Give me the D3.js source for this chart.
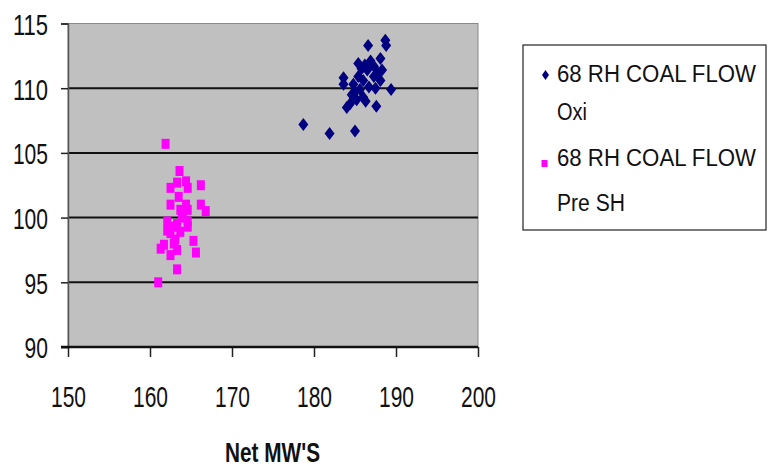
<!DOCTYPE html>
<html>
<head>
<meta charset="utf-8">
<script src="https://cdn.jsdelivr.net/npm/d3@7.9.0/dist/d3.min.js"></script>
<style>
  body { margin: 0; background: #fff; }
  svg { display: block; font-family: "Liberation Sans", Arial, sans-serif; }
</style>
</head>
<body>
<svg id="chart" width="769" height="470"></svg>
<script>
// Series: 68 RH COAL FLOW Oxi (navy diamonds)
const oxiX = [178.7, 181.9, 185.0, 186.6, 188.7, 188.8, 183.6, 183.6, 189.4, 187.6, 184.0, 184.4,
  185.4, 188.1, 188.3, 188.1, 187.5, 186.3, 185.2, 185.6, 184.6, 186.0, 186.5, 186.9, 187.3,
  185.8, 185.4, 184.8, 187.3, 186.7, 187.8, 186.2, 185.0, 186.0];
const oxiY = [107.2, 106.5, 106.7, 113.3, 113.7, 113.3, 110.8, 110.3, 109.9, 108.6, 108.5, 108.8,
  111.9, 112.3, 111.4, 110.6, 110.0, 109.0, 109.1, 109.9, 109.5, 110.6, 111.4, 112.1, 111.7,
  111.5, 110.9, 110.3, 110.9, 110.1, 111.2, 111.8, 109.7, 109.3];

// Series: 68 RH COAL FLOW Pre SH (magenta squares)
const preX = [161.9, 163.6, 162.5, 163.3, 164.4, 164.6, 166.2, 163.5, 162.5, 163.7, 164.4, 164.6,
  166.2, 166.8, 162.1, 162.1, 162.9, 163.7, 164.6, 164.6, 163.9, 161.3, 161.7, 162.5, 162.9,
  163.3, 163.1, 165.3, 165.6, 163.3, 161.0, 162.5, 163.3, 164.0];
const preY = [105.7, 103.6, 102.3, 102.7, 102.8, 102.3, 102.5, 101.6, 101.0, 100.6, 101.0, 100.6,
  101.0, 100.5, 99.7, 99.0, 99.3, 98.9, 99.7, 99.3, 100.0, 97.6, 97.9, 97.1, 98.0,
  97.5, 98.3, 98.2, 97.3, 96.0, 95.0, 98.8, 99.5, 100.3];

const xTicks = [150, 160, 170, 180, 190, 200];
const yTicks = [90, 95, 100, 105, 110, 115];
const seriesNames = [["68 RH COAL FLOW", "Oxi"], ["68 RH COAL FLOW", "Pre SH"]];
const xTitle = "Net MW'S";

const svg = d3.select("#chart");
const plot = { left: 68, right: 478, top: 23.5, bottom: 347 };

const x = d3.scaleLinear().domain([150, 200]).range([plot.left, plot.right]);
const y = d3.scaleLinear().domain([90, 115]).range([plot.bottom, plot.top]);

// plot area background
svg.append("rect")
  .attr("x", plot.left).attr("y", plot.top)
  .attr("width", plot.right - plot.left).attr("height", plot.bottom - plot.top)
  .attr("fill", "#c0c0c0")
  .attr("stroke", "#8a8a8a").attr("stroke-width", 1);

// horizontal gridlines
svg.selectAll(".grid")
  .data(yTicks.filter(d => d > 90 && d < 115))
  .join("line")
  .attr("x1", plot.left).attr("x2", plot.right)
  .attr("y1", d => y(d)).attr("y2", d => y(d))
  .attr("stroke", "#111").attr("stroke-width", 2);

// y axis
const yAxis = svg.append("g")
  .attr("transform", `translate(${plot.left},0)`)
  .call(d3.axisLeft(y).tickValues(yTicks).tickSize(7).tickFormat(d3.format("d")));
yAxis.select(".domain").attr("stroke", "#555").attr("stroke-width", 1.5);
yAxis.selectAll(".tick line").attr("stroke", "#222").attr("stroke-width", 1.5);
yAxis.selectAll(".tick text")
  .attr("x", -20).attr("dy", "0.36em")
  .attr("font-size", 30).attr("fill", "#111")
  .attr("text-anchor", "end")
  .attr("textLength", d => String(d).length * 11.7)
  .attr("lengthAdjust", "spacingAndGlyphs");

// x axis
const xAxis = svg.append("g")
  .attr("transform", `translate(0,${plot.bottom})`)
  .call(d3.axisBottom(x).tickValues(xTicks).tickSize(10).tickFormat(d3.format("d")));
xAxis.select(".domain").remove();
xAxis.selectAll(".tick line").attr("stroke", "#222").attr("stroke-width", 1.5);
xAxis.selectAll(".tick text")
  .attr("y", 60).attr("dy", 0)
  .attr("font-size", 30).attr("fill", "#111")
  .attr("textLength", 35)
  .attr("lengthAdjust", "spacingAndGlyphs");

// x axis line (the 90 line)
svg.append("line")
  .attr("x1", plot.left - 7).attr("x2", plot.right)
  .attr("y1", plot.bottom).attr("y2", plot.bottom)
  .attr("stroke", "#111").attr("stroke-width", 2.5);

// axis title
svg.append("text")
  .attr("x", 272.5).attr("y", 462)
  .attr("text-anchor", "middle")
  .attr("font-size", 28).attr("font-weight", "bold").attr("fill", "#111")
  .attr("textLength", 95).attr("lengthAdjust", "spacingAndGlyphs")
  .text(xTitle);

// markers
const diamond = (cx, cy, w, h) => `M${cx},${cy - h / 2}L${cx + w / 2},${cy}L${cx},${cy + h / 2}L${cx - w / 2},${cy}Z`;

svg.append("g").selectAll("path")
  .data(d3.zip(oxiX, oxiY))
  .join("path")
  .attr("d", d => diamond(x(d[0]), y(d[1]), 10, 13))
  .attr("fill", "#000080");

svg.append("g").selectAll("rect")
  .data(d3.zip(preX, preY))
  .join("rect")
  .attr("x", d => x(d[0]) - 4).attr("y", d => y(d[1]) - 5)
  .attr("width", 8).attr("height", 10)
  .attr("fill", "#ff00ff");

// legend
const legend = svg.append("g");
legend.append("rect")
  .attr("x", 523).attr("y", 45).attr("width", 243).attr("height", 185)
  .attr("fill", "#fff").attr("stroke", "#222").attr("stroke-width", 1.2);

legend.append("path").attr("d", diamond(545.5, 75, 7, 10)).attr("fill", "#000080");
legend.append("rect").attr("x", 541.5).attr("y", 160).attr("width", 6).attr("height", 7).attr("fill", "#ff00ff");

const legendLines = [
  [seriesNames[0][0], 82, 199], [seriesNames[0][1], 120, 30],
  [seriesNames[1][0], 166, 199], [seriesNames[1][1], 211, 68]
];
legend.selectAll("text")
  .data(legendLines)
  .join("text")
  .attr("x", 557).attr("y", d => d[1])
  .attr("font-size", 23).attr("fill", "#111")
  .attr("textLength", d => d[2]).attr("lengthAdjust", "spacingAndGlyphs")
  .text(d => d[0]);
</script>
</body>
</html>
